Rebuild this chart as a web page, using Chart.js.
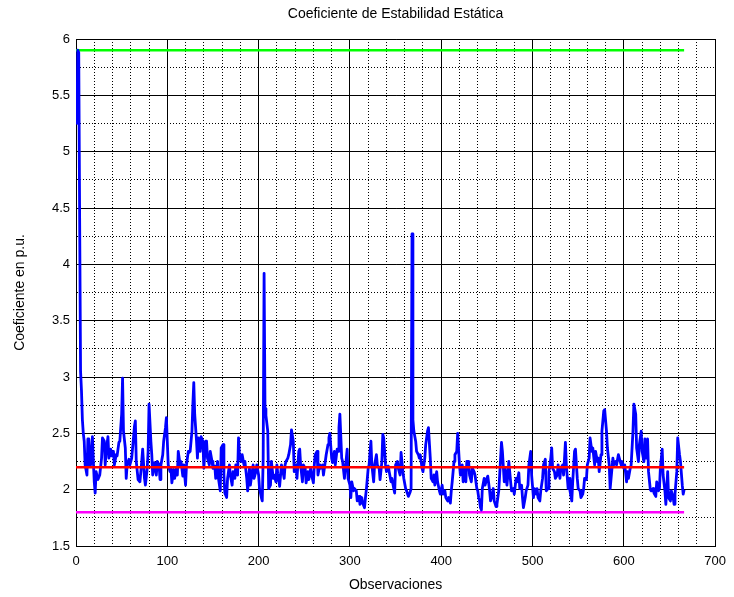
<!DOCTYPE html>
<html>
<head>
<meta charset="utf-8">
<script src="https://cdn.jsdelivr.net/npm/chart.js@4.4.0/dist/chart.umd.min.js"></script>
<style>
  html, body { margin: 0; padding: 0; background: #fff; }
</style>
</head>
<body>
<canvas id="chart" width="734" height="597"></canvas>
<script>
var chartTitle = 'Coeficiente de Estabilidad Estática';
var xLabel = 'Observaciones';
var yLabel = 'Coeficiente en p.u.';

var obs = [
  1,2,3,4,5,6,7,8,9,10,12,13,14,15,16,18,19,20,21,22,24,26,28,29,31,32,33,35,36,38,39,41,42,44,45,47,48,50,51,52,54,55,56,58,59,61,62,64,65,66,68,70,72,73,75,76,78,79,80,82,83,84,86,88,89,91,92,93,95,96,98,99,100,
  101,103,104,105,107,108,110,111,112,114,115,117,118,120,121,123,124,125,127,128,129,130,132,133,134,136,137,139,140,142,143,144,146,147,149,150,152,153,155,156,158,159,161,162,163,165,166,168,169,171,172,174,175,177,178,179,181,182,184,185,187,188,190,191,193,194,195,197,198,200,
  201,203,204,205,206,207,208,210,211,213,214,216,217,219,220,221,223,225,226,228,229,230,232,233,235,236,238,239,241,242,244,245,246,248,249,251,252,254,255,257,258,260,261,262,264,265,267,268,270,271,273,274,276,277,278,280,281,283,284,286,287,288,289,291,292,294,295,297,298,300,
  301,302,304,305,307,308,310,311,313,314,316,317,318,320,321,323,324,326,327,329,330,332,333,335,336,337,339,340,342,343,345,346,348,349,350,352,353,355,356,358,359,361,362,364,365,366,367,368,369,370,372,373,375,376,377,379,380,382,383,385,386,388,389,391,392,393,395,396,398,399,
  401,402,404,405,407,408,410,411,412,414,415,417,418,420,421,423,424,426,427,428,430,431,433,434,436,437,439,440,441,442,443,444,445,447,448,450,451,453,454,455,457,458,460,461,463,464,466,467,469,470,472,473,474,476,477,479,480,482,483,485,486,488,489,490,492,493,495,496,498,499,
  501,502,504,505,506,508,509,511,512,514,515,517,518,520,521,522,524,525,527,528,530,531,533,534,536,537,539,540,541,543,544,546,547,549,550,552,553,555,556,557,559,560,562,563,565,566,568,569,571,572,573,575,576,578,579,581,582,584,585,587,588,589,591,592,594,595,597,598,600,601,603,604,605,607,608,610,611,613,614,616,617,619,620,622,623,624,626,627,629,630,632,633,635,636,638,639,640,642,643,645,646,648,649,651,652,654,655,656,658,659,661,662,664,665,666
];

// coeficiente (p.u.) at each observation above
var coef = [
  5.24,5.90,5.88,4.40,3.05,2.88,2.62,2.50,2.43,2.22,2.13,2.45,2.45,2.22,2.22,2.47,2.25,2.07,1.97,2.16,2.09,2.13,2.28,2.46,2.43,2.22,2.34,2.47,2.28,2.36,2.30,2.34,2.22,2.31,2.30,2.42,2.43,2.67,2.99,2.52,2.37,2.10,2.22,2.27,2.22,2.28,2.37,2.56,2.61,2.25,2.09,2.07,2.25,2.36,2.10,2.04,2.19,2.34,2.76,2.43,2.31,2.13,2.24,2.13,2.25,2.22,2.09,2.22,2.31,2.43,2.55,2.64,2.43,
  2.22,2.16,2.19,2.06,2.18,2.10,2.19,2.13,2.34,2.22,2.25,2.12,2.22,2.04,2.22,2.34,2.33,2.34,2.52,2.76,2.95,2.67,2.43,2.28,2.46,2.34,2.47,2.43,2.19,2.43,2.43,2.28,2.22,2.34,2.25,2.19,2.21,2.10,2.25,2.10,1.99,2.37,2.40,2.13,1.97,1.93,2.10,2.22,2.13,2.04,2.16,2.10,2.22,2.13,2.46,2.31,2.25,2.31,2.22,2.25,2.10,1.99,2.19,2.04,2.16,2.22,2.10,2.16,2.22,2.13,
  2.01,1.93,1.90,2.28,3.92,2.72,2.66,2.52,2.01,2.04,2.25,2.10,2.13,2.07,2.22,2.14,2.03,2.22,2.19,2.10,2.22,2.25,2.28,2.31,2.40,2.53,2.43,2.16,2.22,2.10,2.34,2.36,2.22,2.07,2.22,2.19,2.06,2.16,2.09,2.19,2.13,2.06,2.22,2.31,2.34,2.13,2.22,2.19,2.22,2.13,2.25,2.31,2.40,2.46,2.50,2.28,2.24,2.34,2.22,2.36,2.34,2.55,2.67,2.28,2.25,2.10,2.19,2.36,2.10,2.04,
  1.93,2.07,1.99,2.01,1.99,1.90,1.94,1.87,1.93,1.88,1.84,1.93,2.00,2.19,2.22,2.43,2.22,2.07,2.22,2.31,2.22,2.19,2.09,2.25,2.49,2.46,2.22,2.16,2.21,2.16,2.07,2.10,2.01,1.97,2.22,2.25,2.19,2.13,2.33,2.16,2.10,2.01,1.99,1.94,1.96,1.98,2.01,4.27,2.62,2.52,2.43,2.34,2.31,2.28,2.31,2.19,2.16,2.28,2.40,2.52,2.55,2.28,2.10,2.07,2.13,2.04,2.16,2.07,1.99,1.96,
  2.04,1.96,1.99,1.93,1.90,1.93,1.88,1.99,2.07,2.25,2.31,2.34,2.50,2.22,2.13,2.22,2.07,2.19,2.07,2.25,2.25,2.13,2.07,2.19,2.16,2.13,2.01,1.99,1.93,1.90,1.84,1.82,2.01,2.10,2.04,2.10,2.12,1.99,1.90,1.93,2.01,1.90,1.85,1.87,1.99,2.13,2.42,2.34,2.07,2.19,2.04,2.13,2.25,2.07,1.99,2.01,1.96,2.10,2.07,2.15,2.01,2.04,1.93,1.84,1.93,1.99,2.04,2.22,2.34,2.13,
  1.93,2.01,1.96,2.01,1.93,1.90,1.99,2.10,2.22,2.27,1.99,2.01,2.16,2.28,2.37,2.19,2.16,2.10,2.13,2.22,2.10,2.19,2.22,2.13,2.42,2.22,2.01,2.10,1.99,1.90,2.07,2.34,2.36,2.10,2.01,1.99,1.93,1.96,2.01,2.10,2.09,2.22,2.28,2.46,2.34,2.37,2.22,2.34,2.25,2.28,2.16,2.31,2.52,2.70,2.71,2.52,2.37,2.22,2.01,2.19,2.28,2.22,2.25,2.22,2.31,2.28,2.22,2.25,2.19,2.22,2.07,2.16,2.10,2.19,2.22,2.52,2.76,2.67,2.37,2.25,2.40,2.52,2.34,2.25,2.45,2.28,2.45,2.16,2.00,1.99,2.01,1.97,1.94,2.07,1.99,2.01,2.19,2.36,2.13,1.99,1.87,2.16,1.93,1.90,1.99,1.93,1.87,1.96,2.16,2.46,2.31,2.25,2.04,1.96,2.00
];

// horizontal reference lines
var refX = [0, 666];
var upperLimit = [5.9, 5.9];
var setPoint = [2.2, 2.2];
var lowerLimit = [1.8, 1.8];

var xMin = 0, xMax = 700, xMajor = 100, xMinor = 20;
var yMin = 1.5, yMax = 6, yMajor = 0.5, yMinor = 0.25;

function toPoints(xs, ys) {
    var pts = [];
    for (var i = 0; i < xs.length; i++) pts.push({ x: xs[i], y: ys[i] });
    return pts;
}

function isMajor(v, step) {
    var r = v / step;
    return Math.abs(r - Math.round(r)) < 1e-6;
}

// solid lines on labelled ticks, dotted ones in between (matlab minor grid)
function gridDash(step) {
    return function (ctx) {
        if (!ctx.tick) return [];
        return isMajor(ctx.tick.value, step) ? [] : [1, 2];
    };
}

var axesTitle = {
    id: 'axesTitle',
    afterDraw: function (chart) {
        var a = chart.chartArea, ctx = chart.ctx;
        ctx.save();
        ctx.font = '14px "Liberation Sans", Arial, sans-serif';
        ctx.fillStyle = '#000';
        ctx.textAlign = 'center';
        ctx.textBaseline = 'middle';
        ctx.fillText(chartTitle, (a.left + a.right) / 2, a.top - 25);
        ctx.restore();
    }
};

Chart.defaults.font.family = '"Liberation Sans", Arial, sans-serif';
Chart.defaults.color = '#000';

var ctx = document.getElementById('chart').getContext('2d');
new Chart(ctx, {
    type: 'line',
    data: {
        datasets: [
            { data: toPoints(refX, setPoint), borderColor: '#ff0000', borderWidth: 2.5 },
            { data: toPoints(obs, coef), borderColor: '#0000ff', borderWidth: 2.8, borderJoinStyle: 'round' },
            { data: toPoints(refX, upperLimit), borderColor: '#00ff00', borderWidth: 2.5 },
            { data: toPoints(refX, lowerLimit), borderColor: '#ff00ff', borderWidth: 2.5 }
        ]
    },
    options: {
        responsive: false,
        animation: false,
        devicePixelRatio: 1,
        parsing: false,
        elements: { point: { radius: 0 }, line: { tension: 0, fill: false } },
        layout: { padding: { top: 39, right: 17, left: 0, bottom: 0 } },
        plugins: {
            legend: { display: false },
            tooltip: { enabled: false }
        },
        scales: {
            x: {
                type: 'linear',
                min: xMin,
                max: xMax,
                afterFit: function (scale) { scale.height = 51; },
                ticks: {
                    stepSize: xMinor,
                    autoSkip: false,
                    maxRotation: 0,
                    padding: 8,
                    font: { size: 13 },
                    callback: function (v) { return isMajor(v, xMajor) ? String(v) : ''; }
                },
                grid: { color: '#000', lineWidth: 1, drawTicks: false },
                border: { display: true, color: '#000', width: 1, dash: gridDash(xMajor) },
                title: { display: true, text: xLabel, font: { size: 14 }, padding: { top: 0, bottom: 3 } }
            },
            y: {
                type: 'linear',
                min: yMin,
                max: yMax,
                afterFit: function (scale) { scale.width = 76; },
                ticks: {
                    stepSize: yMinor,
                    autoSkip: false,
                    padding: 6,
                    font: { size: 13 },
                    callback: function (v) { return isMajor(v, yMajor) ? String(v) : ''; }
                },
                grid: { color: '#000', lineWidth: 1, drawTicks: false },
                border: { display: true, color: '#000', width: 1, dash: gridDash(yMajor) },
                title: { display: true, text: yLabel, font: { size: 14 }, padding: { top: 12, bottom: 0 } }
            }
        }
    },
    plugins: [axesTitle]
});
</script>
</body>
</html>
